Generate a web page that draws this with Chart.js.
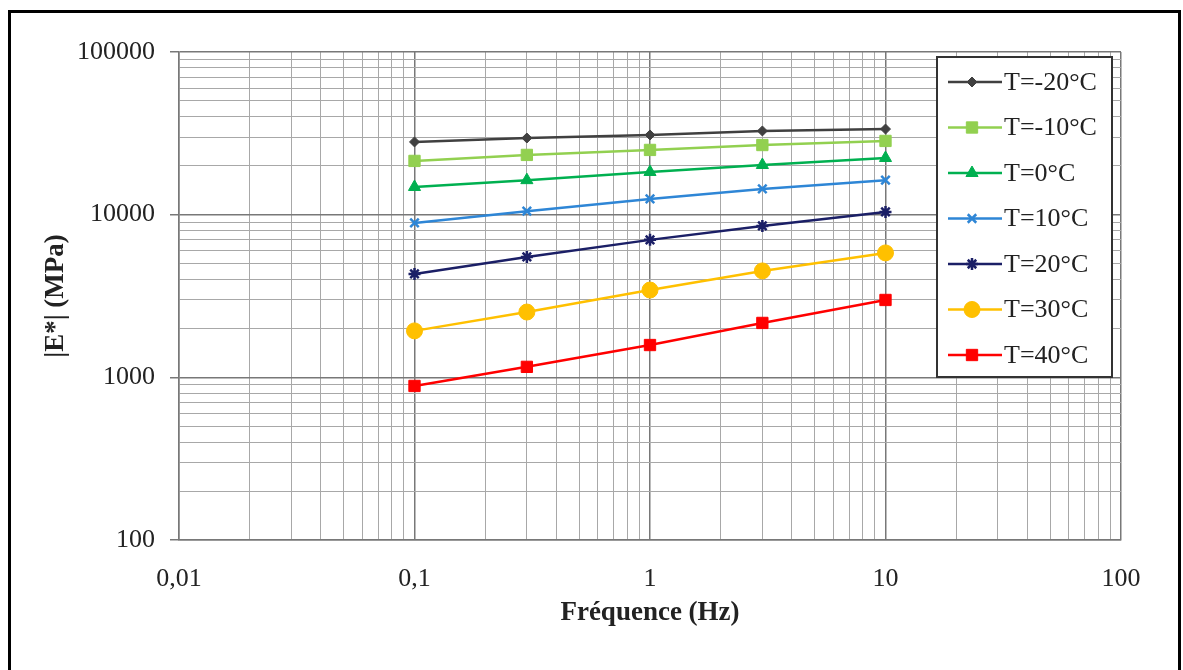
<!DOCTYPE html>
<html>
<head>
<meta charset="utf-8">
<script src="https://cdn.jsdelivr.net/npm/chart.js@4.4.1/dist/chart.umd.min.js"></script>
<style>
html,body{margin:0;padding:0;background:#fff;}
canvas{display:block;}
</style>
</head>
<body>
<canvas id="c" width="1183" height="670"></canvas>
<script>
// ---- data ----
const frequencies = [0.1, 0.3, 1, 3, 10];
const seriesLabels = ['T=-20°C', 'T=-10°C', 'T=0°C', 'T=10°C', 'T=20°C', 'T=30°C', 'T=40°C'];
const tMinus20 = [28000, 29600, 30900, 32700, 33600];
const tMinus10 = [21400, 23300, 25000, 26800, 28400];
const t0 = [14800, 16300, 18300, 20200, 22300];
const t10 = [8900, 10500, 12500, 14400, 16300];
const t20 = [4320, 5500, 7000, 8530, 10400];
const t30 = [1930, 2520, 3440, 4510, 5820];
const t40 = [885, 1160, 1580, 2160, 2990];
const xTickValues = [0.01, 0.1, 1, 10, 100];
const xTickLabels = ['0,01', '0,1', '1', '10', '100'];
const yTickValues = [100, 1000, 10000, 100000];
const yTickLabels = ['100', '1000', '10000', '100000'];

const seriesValues = [tMinus20, tMinus10, t0, t10, t20, t30, t40];
const styles = [
  {color: '#404040', pointStyle: 'rectRot', radius: 5, bw: 1},
  {color: '#92D050', pointStyle: 'rect', radius: 8, bw: 1},
  {color: '#00B050', pointStyle: 'triangle', radius: 7, bw: 1},
  {color: '#2E86D6', pointStyle: 'crossRot', radius: 6, bw: 2.5},
  {color: '#1B1F66', pointStyle: 'star', radius: 6, bw: 2.5},
  {color: '#FFC000', pointStyle: 'circle', radius: 8, bw: 1},
  {color: '#FF0000', pointStyle: 'rect', radius: 8, bw: 1}
];

const datasets = seriesValues.map((vals, i) => ({
  label: seriesLabels[i],
  data: vals.map((v, j) => ({x: frequencies[j], y: v})),
  borderColor: styles[i].color,
  backgroundColor: styles[i].color,
  borderWidth: 2.5,
  pointStyle: styles[i].pointStyle,
  pointRadius: styles[i].radius,
  pointHoverRadius: styles[i].radius,
  pointBorderWidth: styles[i].bw,
  pointBackgroundColor: styles[i].color,
  pointBorderColor: styles[i].color,
  tension: 0,
  fill: false
}));

function logTicks(min, max) {
  const out = [];
  for (let e = Math.round(Math.log10(min)); e < Math.round(Math.log10(max)); e++) {
    for (let s = 1; s <= 9; s++) {
      out.push({value: +(s * Math.pow(10, e)).toPrecision(6), major: s === 1});
    }
  }
  out.push({value: max, major: true});
  return out;
}

function labelFor(values, labels, v) {
  for (let i = 0; i < values.length; i++) {
    if (Math.abs(values[i] - v) / values[i] < 1e-6) return labels[i];
  }
  return '';
}

const serif = '"Liberation Serif", "Times New Roman", serif';
const majorGrid = '#787878';
const minorGrid = '#a8a8a8';

const framePlugin = {
  id: 'frame',
  afterDraw(chart) {
    const ctx = chart.ctx;
    ctx.save();
    ctx.strokeStyle = '#000';
    ctx.lineWidth = 3;
    ctx.strokeRect(9.5, 11.5, 1170, 700);
    ctx.restore();
  }
};

const legendPlugin = {
  id: 'insideLegend',
  afterDatasetsDraw(chart) {
    const ctx = chart.ctx;
    const x0 = 937, y0 = 57, w = 175, h = 320;
    ctx.save();
    ctx.fillStyle = '#fff';
    ctx.fillRect(x0, y0, w, h);
    ctx.strokeStyle = '#333';
    ctx.lineWidth = 2;
    ctx.strokeRect(x0, y0, w, h);
    chart.data.datasets.forEach((ds, i) => {
      const y = 82 + i * 45.5;
      ctx.strokeStyle = ds.borderColor;
      ctx.lineWidth = 2.5;
      ctx.beginPath();
      ctx.moveTo(948, y);
      ctx.lineTo(1002, y);
      ctx.stroke();
      ctx.fillStyle = ds.pointBackgroundColor;
      ctx.strokeStyle = ds.pointBorderColor;
      ctx.lineWidth = ds.pointBorderWidth;
      Chart.helpers.drawPoint(ctx, {pointStyle: ds.pointStyle, radius: ds.pointRadius, rotation: 0, borderWidth: ds.pointBorderWidth}, 972, y);
      ctx.fillStyle = '#222';
      ctx.font = '26px ' + serif;
      ctx.textBaseline = 'middle';
      ctx.textAlign = 'left';
      ctx.fillText(ds.label, 1004, y + 1);
    });
    ctx.restore();
  }
};

new Chart(document.getElementById('c'), {
  type: 'line',
  data: {datasets},
  options: {
    responsive: false,
    animation: false,
    layout: {padding: {top: 52, right: 62, bottom: 0, left: 0}},
    plugins: {legend: {display: false}, tooltip: {enabled: false}},
    scales: {
      x: {
        type: 'logarithmic',
        min: 0.01, max: 100,
        afterBuildTicks(scale) { scale.ticks = logTicks(0.01, 100); },
        afterFit(scale) { scale.height = 130; },
        ticks: {
          autoSkip: false, maxRotation: 0, padding: 24,
          color: '#222',
          font: {family: serif, size: 26},
          callback: (v) => labelFor(xTickValues, xTickLabels, v)
        },
        grid: {
          drawTicks: false,
          color: (c) => (c.tick && c.tick.major) ? majorGrid : minorGrid,
          lineWidth: (c) => (c.tick && c.tick.major) ? 1.5 : 1
        },
        border: {color: majorGrid, width: 1.5},
        title: {
          display: true, text: 'Fréquence (Hz)', color: '#222',
          font: {family: serif, size: 27, weight: 'bold'},
          padding: {top: 0, bottom: 41}
        }
      },
      y: {
        type: 'logarithmic',
        min: 100, max: 100000,
        afterBuildTicks(scale) { scale.ticks = logTicks(100, 100000); },
        afterFit(scale) { scale.width = 179; },
        ticks: {
          autoSkip: false, padding: 15,
          color: '#222',
          font: {family: serif, size: 26},
          callback: (v) => labelFor(yTickValues, yTickLabels, v)
        },
        grid: {
          drawTicks: true, tickLength: 9,
          color: (c) => (c.tick && c.tick.major) ? majorGrid : minorGrid,
          tickColor: (c) => (c.tick && c.tick.major) ? majorGrid : 'rgba(0,0,0,0)',
          lineWidth: (c) => (c.tick && c.tick.major) ? 1.5 : 1
        },
        border: {color: majorGrid, width: 1.5},
        title: {
          display: true, text: '|E*| (MPa)', color: '#222',
          font: {family: serif, size: 27, weight: 'bold'},
          padding: {top: 40, bottom: 0}
        }
      }
    }
  },
  plugins: [legendPlugin, framePlugin]
});
</script>
</body>
</html>
